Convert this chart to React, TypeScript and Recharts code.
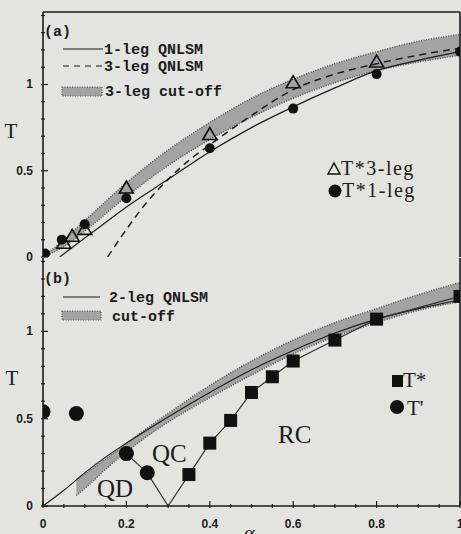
import React from 'react';
import { ComposedChart, Line, Area, Scatter, XAxis, YAxis, ReferenceLine } from 'recharts';

const BG = '#e3e3e0';
const INK = '#1c1c1c';
const BAND = '#a3a3a3';
const BAND_EDGE = '#555555';
const Y_MAX = 1.42;

const xTicks = [0, 0.05, 0.1, 0.15, 0.2, 0.25, 0.3, 0.35, 0.4, 0.45, 0.5, 0.55, 0.6, 0.65, 0.7, 0.75, 0.8, 0.85, 0.9, 0.95, 1];
const yTicks = [0, 0.1, 0.2, 0.3, 0.4, 0.5, 0.6, 0.7, 0.8, 0.9, 1, 1.1, 1.2, 1.3, 1.4];

// ---- Panel (a) ----
const cutoffA_alpha = [0, 0.05, 0.1, 0.2, 0.3, 0.4, 0.5, 0.6, 0.7, 0.8, 0.9, 1.0];
const cutoffA_low = [0, 0.06, 0.15, 0.35, 0.53, 0.68, 0.81, 0.92, 1.01, 1.08, 1.13, 1.17];
const cutoffA_high = [0, 0.1, 0.21, 0.43, 0.62, 0.78, 0.92, 1.03, 1.12, 1.19, 1.25, 1.29];

const leg1_alpha = [0.04, 0.1, 0.15, 0.2, 0.3, 0.4, 0.5, 0.6, 0.7, 0.8, 0.9, 1.0];
const leg1_T = [0, 0.11, 0.2, 0.29, 0.45, 0.61, 0.75, 0.87, 0.98, 1.08, 1.14, 1.19];

const leg3_alpha = [0.155, 0.2, 0.25, 0.3, 0.35, 0.4, 0.5, 0.6, 0.7, 0.8, 0.9, 1.0];
const leg3_T = [0, 0.16, 0.32, 0.45, 0.56, 0.65, 0.82, 0.97, 1.06, 1.12, 1.17, 1.21];

const tri3_alpha = [0.05, 0.07, 0.1, 0.2, 0.4, 0.6, 0.8];
const tri3_T = [0.08, 0.12, 0.16, 0.4, 0.71, 1.01, 1.13];

const dot1_alpha = [0.005, 0.045, 0.1, 0.2, 0.4, 0.6, 0.8, 1.0];
const dot1_T = [0.02, 0.1, 0.19, 0.34, 0.63, 0.86, 1.06, 1.19];

// ---- Panel (b) ----
const cutoffB_alpha = [0.08, 0.11, 0.15, 0.2, 0.3, 0.4, 0.5, 0.6, 0.7, 0.8, 0.9, 1.0];
const cutoffB_low = [0.06, 0.12, 0.21, 0.31, 0.48, 0.62, 0.75, 0.87, 0.97, 1.05, 1.12, 1.17];
const cutoffB_high = [0.15, 0.2, 0.27, 0.36, 0.53, 0.69, 0.83, 0.95, 1.05, 1.13, 1.21, 1.28];

const leg2_alpha = [0, 0.05, 0.1, 0.15, 0.2, 0.3, 0.4, 0.5, 0.6, 0.7, 0.8, 0.9, 1.0];
const leg2_T = [0, 0.09, 0.19, 0.28, 0.36, 0.51, 0.65, 0.78, 0.89, 0.99, 1.07, 1.13, 1.18];

const path_alpha = [0.2, 0.25, 0.3, 0.35, 0.4, 0.45, 0.5, 0.55, 0.6, 0.7, 0.8, 1.0];
const path_T = [0.3, 0.19, 0, 0.18, 0.36, 0.49, 0.65, 0.74, 0.83, 0.95, 1.07, 1.2];

const tstar_alpha = [0.35, 0.4, 0.45, 0.5, 0.55, 0.6, 0.7, 0.8, 1.0];
const tstar_T = [0.18, 0.36, 0.49, 0.65, 0.74, 0.83, 0.95, 1.07, 1.2];

const tprime_alpha = [0, 0.08, 0.2, 0.25];
const tprime_T = [0.54, 0.53, 0.3, 0.19];

const pts = (xs: number[], ys: number[]) => xs.map((a, i) => ({ a, T: ys[i] }));
const rng = (xs: number[], lo: number[], hi: number[]) => xs.map((a, i) => ({ a, range: [lo[i], hi[i]] }));

const isMult = (v: number, step: number) => Math.abs(v / step - Math.round(v / step)) < 1e-6;
const fmt = (v: number) => (Math.abs(v) < 1e-9 ? '0' : Math.abs(v - 1) < 1e-9 ? '1' : v.toFixed(1));

const makeXTick = (showLabel: boolean) => (props: any) => {
  const { x, y, payload } = props;
  const v = payload.value;
  const major = isMult(v, 0.2);
  return (
    <g>
      <line x1={x} x2={x} y1={y} y2={y - (major ? 7 : 4)} stroke={INK} strokeWidth={1.2} />
      {showLabel && major && (
        <text x={x} y={y + 20} textAnchor="middle" fontFamily="Liberation Sans" fontWeight="bold" fontSize={12} fill={INK}>
          {fmt(v)}
        </text>
      )}
    </g>
  );
};

const YTick = (props: any) => {
  const { x, y, payload } = props;
  const v = payload.value;
  const major = isMult(v, 0.5);
  return (
    <g>
      <line x1={x} x2={x + (major ? 7 : 4)} y1={y} y2={y} stroke={INK} strokeWidth={1.2} />
      {major && (
        <text x={x - 8} y={y + 4} textAnchor="end" fontFamily="Liberation Sans" fontWeight="bold" fontSize={12} fill={INK}>
          {fmt(v)}
        </text>
      )}
    </g>
  );
};

const Dot = (r: number) => (p: any) => <circle cx={p.cx} cy={p.cy} r={r} fill="#111" />;
const Tri = (p: any) => (
  <polygon
    points={`${p.cx},${p.cy - 7} ${p.cx - 7},${p.cy + 5} ${p.cx + 7},${p.cy + 5}`}
    fill="none"
    stroke="#111"
    strokeWidth={1.6}
  />
);
const Sq = (p: any) => <rect x={p.cx - 6.5} y={p.cy - 6.5} width={13} height={13} fill="#111" />;

const axisLine = { stroke: INK, strokeWidth: 1.6 };
const MONO = 'Liberation Mono';
const SERIF = 'Liberation Serif';

export default function App() {
  return (
    <div style={{ position: 'absolute', left: 0, top: 0, width: 461, height: 534, background: BG, overflow: 'hidden' }}>
      <div style={{ position: 'absolute', left: 0, top: 0 }}>
        <ComposedChart width={461} height={266} margin={{ top: 12, right: 1, bottom: 9, left: 0 }}>
          <XAxis type="number" dataKey="a" domain={[0, 1]} ticks={xTicks} interval={0} tickSize={0} tickLine={false}
            tick={makeXTick(false)} height={0} axisLine={axisLine} allowDataOverflow />
          <YAxis type="number" domain={[0, Y_MAX]} ticks={yTicks} interval={0} tickSize={0} tickLine={false}
            tick={YTick} width={43} axisLine={axisLine} allowDataOverflow />
          <ReferenceLine y={Y_MAX} stroke={INK} strokeWidth={1.6} />
          <ReferenceLine x={1} stroke={INK} strokeWidth={1.6} />
          <Area data={rng(cutoffA_alpha, cutoffA_low, cutoffA_high)} dataKey="range" type="monotone" fill={BAND}
            fillOpacity={1} stroke={BAND_EDGE} strokeWidth={1.5} strokeDasharray="1 1.5" isAnimationActive={false} />
          <Line data={pts(leg1_alpha, leg1_T)} dataKey="T" type="monotone" stroke={INK} strokeWidth={1.2} dot={false}
            isAnimationActive={false} />
          <Line data={pts(leg3_alpha, leg3_T)} dataKey="T" type="monotone" stroke={INK} strokeWidth={1.5}
            strokeDasharray="7 5" dot={false} isAnimationActive={false} />
          <Scatter data={pts(dot1_alpha, dot1_T)} dataKey="T" shape={Dot(5)} isAnimationActive={false} />
          <Scatter data={pts(tri3_alpha, tri3_T)} dataKey="T" shape={Tri} isAnimationActive={false} />
        </ComposedChart>
      </div>
      <div style={{ position: 'absolute', left: 0, top: 258 }}>
        <ComposedChart width={461} height={276} margin={{ top: 0, right: 1, bottom: 0, left: 0 }}>
          <XAxis type="number" dataKey="a" domain={[0, 1]} ticks={xTicks} interval={0} tickSize={0} tickLine={false}
            tick={makeXTick(true)} height={28} axisLine={axisLine} allowDataOverflow />
          <YAxis type="number" domain={[0, Y_MAX]} ticks={yTicks} interval={0} tickSize={0} tickLine={false}
            tick={YTick} width={43} axisLine={axisLine} allowDataOverflow />
          <ReferenceLine x={1} stroke={INK} strokeWidth={1.6} />
          <Area data={rng(cutoffB_alpha, cutoffB_low, cutoffB_high)} dataKey="range" type="monotone" fill={BAND}
            fillOpacity={1} stroke={BAND_EDGE} strokeWidth={1.5} strokeDasharray="1 1.5" isAnimationActive={false} />
          <Line data={pts(leg2_alpha, leg2_T)} dataKey="T" type="monotone" stroke={INK} strokeWidth={1.1} dot={false}
            isAnimationActive={false} />
          <Line data={pts(path_alpha, path_T)} dataKey="T" type="linear" stroke="#333" strokeWidth={1.2} dot={false}
            isAnimationActive={false} />
          <Scatter data={pts(tstar_alpha, tstar_T)} dataKey="T" shape={Sq} isAnimationActive={false} />
          <Scatter data={pts(tprime_alpha, tprime_T)} dataKey="T" shape={Dot(7.5)} isAnimationActive={false} />
        </ComposedChart>
      </div>
      <svg width={461} height={534} style={{ position: 'absolute', left: 0, top: 0, pointerEvents: 'none' }}>
        {/* panel (a) labels */}
        <text x={44} y={36} fontFamily={MONO} fontWeight="bold" fontSize={15} fill={INK}>(a)</text>
        <line x1={63} x2={103} y1={49} y2={49} stroke={INK} strokeWidth={1.2} />
        <text x={104} y={54} fontFamily={MONO} fontWeight="bold" fontSize={15} fill={INK}>1-leg QNLSM</text>
        <line x1={63} x2={103} y1={66} y2={66} stroke={INK} strokeWidth={1.2} strokeDasharray="6 5" />
        <text x={104} y={71} fontFamily={MONO} fontWeight="bold" fontSize={15} fill={INK}>3-leg QNLSM</text>
        <rect x={62} y={87} width={40} height={9} fill={BAND} stroke={BAND_EDGE} strokeWidth={1.2} strokeDasharray="1 1.5" />
        <text x={105} y={96} fontFamily={MONO} fontWeight="bold" fontSize={15} fill={INK}>3-leg cut-off</text>
        <text x={11} y={138} textAnchor="middle" fontFamily={SERIF} fontSize={21} fill={INK}>T</text>
        <polygon points="334,163 328,174 340,174" fill="none" stroke="#111" strokeWidth={1.5} />
        <text x={341} y={175} fontFamily={SERIF} fontSize={20} letterSpacing={1.5} fill={INK}>T*3-leg</text>
        <circle cx={335} cy={191} r={6.5} fill="#111" />
        <text x={342} y={197} fontFamily={SERIF} fontSize={20} letterSpacing={1.5} fill={INK}>T*1-leg</text>
        {/* panel (b) labels */}
        <text x={44} y={283} fontFamily={MONO} fontWeight="bold" fontSize={15} fill={INK}>(b)</text>
        <line x1={63} x2={100} y1={297} y2={297} stroke={INK} strokeWidth={1.1} />
        <text x={109} y={302} fontFamily={MONO} fontWeight="bold" fontSize={15} fill={INK}>2-leg QNLSM</text>
        <rect x={62} y={311} width={39} height={9} fill={BAND} stroke={BAND_EDGE} strokeWidth={1.2} strokeDasharray="1 1.5" />
        <text x={112} y={321} fontFamily={MONO} fontWeight="bold" fontSize={15} fill={INK}>cut-off</text>
        <text x={12} y={385} textAnchor="middle" fontFamily={SERIF} fontSize={21} fill={INK}>T</text>
        <rect x={392} y={375} width={11} height={12} fill="#111" />
        <text x={403} y={387} fontFamily={SERIF} fontSize={21} fill={INK}>T*</text>
        <circle cx={397} cy={407} r={7} fill="#111" />
        <text x={407} y={415} fontFamily={SERIF} fontSize={21} fill={INK}>T'</text>
        <text x={97} y={497} fontFamily={SERIF} fontSize={25} fill={INK}>QD</text>
        <text x={152} y={462} fontFamily={SERIF} fontSize={25} fill={INK}>QC</text>
        <text x={278} y={443} fontFamily={SERIF} fontSize={25} fill={INK}>RC</text>
        <text x={244} y={540} fontFamily={SERIF} fontStyle="italic" fontSize={20} fill={INK}>α</text>
      </svg>
    </div>
  );
}
